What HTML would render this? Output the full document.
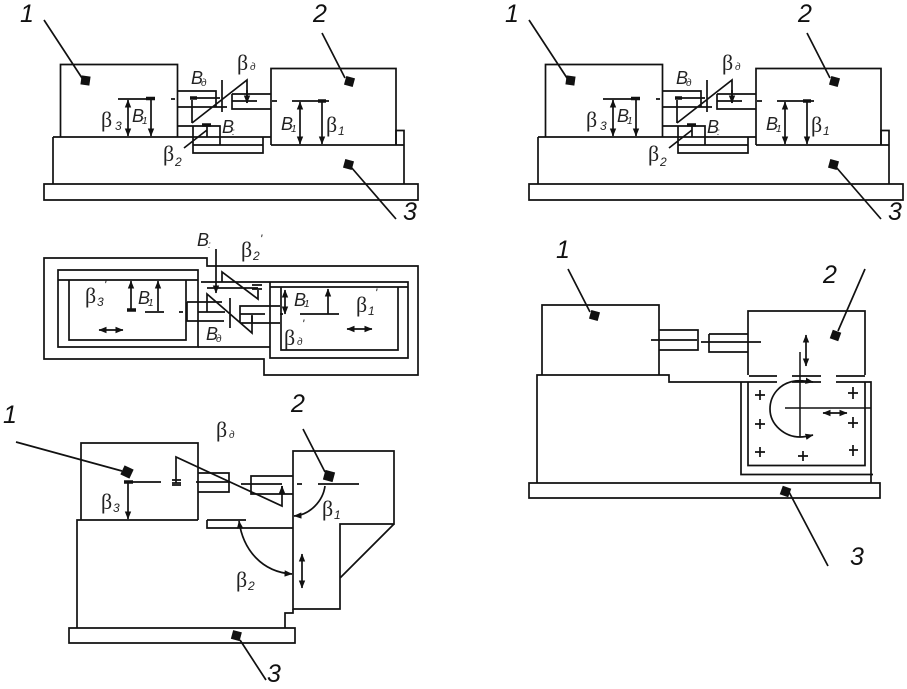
<!DOCTYPE html>
<html><head><meta charset="utf-8"><style>
html,body{margin:0;padding:0;background:#fff}
svg{display:block}
.l{fill:none;stroke:#111;stroke-width:1.7}
.t{stroke-width:1.5}
.b{stroke-width:3.5}
text{fill:#222;font-family:"Liberation Sans",sans-serif}
.n{font-size:25px;font-style:italic;fill:#111}
.g{font-size:22px;font-family:"Liberation Serif",serif}
.s{font-size:12px;font-style:italic}
.v{font-size:18px;font-style:italic}
.x{font-size:10px;font-style:italic}
</style></head><body>
<svg width="907" height="689" viewBox="0 0 907 689" xmlns="http://www.w3.org/2000/svg">
<defs>
<marker id="a" viewBox="0 0 8 8" refX="7.5" refY="4" markerWidth="8" markerHeight="8" orient="auto-start-reverse" markerUnits="userSpaceOnUse"><path d="M0 .8L8 4L0 7.2Z" fill="#111"/></marker>
<g id="top">
<path class="l" d="M60.5 137V64.5H177.5V137M271 145V68.5H396V145"/>
<path class="l" d="M53 137H271M53 137V184M271 145H404V184M396 145V130.500H404V145"/>
<path class="l" d="M44 184H418V200H44Z"/>
<path class="l" d="M177 91H216V107M177 107H227M190 98H220M192 123V100M192 123L247 80V103M222 80V112"/>
<path class="l" d="M232 94H271M232 94V109H271M232 101H257M171 99H175M272 101H277"/>
<path class="l" d="M177 126H220V145M193 126V153H263V137M193 145H263M184 148L207 130M207 125V137"/>
<path class="l" d="M118 99H155M292 101H329"/>
<path class="l b" d="M146 98.500H155M190 98H197M202 125H211M318 101H326"/>
<path class="l" d="M128 100V136" marker-start="url(#a)" marker-end="url(#a)"/>
<path class="l" d="M151 100V136" marker-end="url(#a)"/>
<path class="l" d="M300 102V144" marker-start="url(#a)" marker-end="url(#a)"/>
<path class="l" d="M322 102V144" marker-end="url(#a)"/>
<path class="l" d="M247 90V103" marker-end="url(#a)"/>
<path class="l" d="M44 20L82 78M322 33L345 78M351 167L396 219"/>
<rect x="81" y="76" width="9" height="9" fill="#111" transform="rotate(8 85.500 80.500)"/>
<rect x="345" y="77" width="9" height="9" fill="#111" transform="rotate(15 349.500 81.500)"/>
<rect x="344" y="160" width="9" height="9" fill="#111" transform="rotate(15 348.500 164.500)"/>
</g>
</defs>

<use href="#top"/>
<use href="#top" x="485"/>

<!-- top left labels -->
<text class="n" x="20" y="22">1</text><text class="n" x="313" y="22">2</text><text class="n" x="403" y="220">3</text>
<text class="g" x="101" y="127">β</text><text class="s" x="115" y="130">3</text>
<text class="v" x="132" y="122">B</text><text class="x" x="142" y="124">1</text>
<text class="v" x="191" y="84">B</text><text class="x" x="201" y="86">д</text>
<text class="g" x="237" y="70">β</text><text class="x" x="250" y="70">д</text>
<text class="v" x="222" y="133">B</text><text class="x" x="232" y="135">:</text>
<text class="v" x="281" y="130">B</text><text class="x" x="291" y="132">1</text>
<text class="g" x="326" y="132">β</text><text class="s" x="338" y="135">1</text>
<text class="g" x="163" y="161">β</text><text class="s" x="175" y="166">2</text>

<!-- top right labels -->
<text class="n" x="505" y="22">1</text><text class="n" x="798" y="22">2</text><text class="n" x="888" y="220">3</text>
<text class="g" x="586" y="127">β</text><text class="s" x="600" y="130">3</text>
<text class="v" x="617" y="122">B</text><text class="x" x="627" y="124">1</text>
<text class="v" x="676" y="84">B</text><text class="x" x="686" y="86">д</text>
<text class="g" x="722" y="70">β</text><text class="x" x="735" y="70">д</text>
<text class="v" x="707" y="133">B</text><text class="x" x="717" y="135">:</text>
<text class="v" x="766" y="130">B</text><text class="x" x="776" y="132">1</text>
<text class="g" x="811" y="132">β</text><text class="s" x="823" y="135">1</text>
<text class="g" x="648" y="161">β</text><text class="s" x="660" y="166">2</text>

<!-- middle -->
<path class="l" d="M44 258H207V266H418V375H264V359H44Z"/>
<path class="l" d="M58 270H198V347H58ZM58 280H198M69 280V340H186V280"/>
<path class="l" d="M201 282H408V358H270V282M270 287H408M281 287V350H398V287M198 347H270"/>
<path class="l" d="M187 302H222M187 302V321H224M198 312H225M179 312H183"/>
<path class="l" d="M207 312V294L252 333V316M230 298V328M240 323V306H280M240 323H280M240 314H265M280 314H283"/>
<path class="l" d="M222 282V272L258 299V290M207 288H258M252 285H262M252 289H262"/>
<path class="l" d="M216 249V293" marker-end="url(#a)"/>
<path class="l" d="M131 310V281" marker-end="url(#a)"/>
<path class="l" d="M127 310H136M145 312H164"/>
<path class="l b" d="M127 310H136"/>
<path class="l" d="M158 281V311" marker-start="url(#a)"/>
<path class="l" d="M285 290V314" marker-start="url(#a)" marker-end="url(#a)"/>
<path class="l" d="M328 314V289" marker-end="url(#a)"/>
<path class="l" d="M300 314H339M252 322V315"/>
<path class="l" d="M99 330H123" marker-start="url(#a)" marker-end="url(#a)"/>
<path class="l" d="M347 329H372" marker-start="url(#a)" marker-end="url(#a)"/>
<text class="v" x="197" y="246">B</text><text class="x" x="208" y="248">:</text>
<text class="g" x="241" y="257">β</text><text class="s" x="253" y="260">2</text><text class="s" x="260" y="243">'</text>
<text class="g" x="85" y="303">β</text><text class="s" x="97" y="306">3</text><text class="s" x="104" y="289">'</text>
<text class="v" x="138" y="304">B</text><text class="x" x="148" y="306">1</text>
<text class="v" x="206" y="340">B</text><text class="x" x="216" y="342">д</text>
<text class="g" x="284" y="345">β</text><text class="x" x="297" y="345">д</text><text class="s" x="302" y="328">'</text>
<text class="v" x="294" y="306">B</text><text class="x" x="304" y="307">1</text>
<text class="g" x="356" y="312">β</text><text class="s" x="368" y="315">1</text><text class="s" x="375" y="297">'</text>

<!-- bottom left -->
<path class="l" d="M81 520V443H198V520M77 628V520H198M207 520H246M207 520V528H293"/>
<path class="l" d="M293 451H394V524H340V609H293ZM394 524L340 578"/>
<path class="l" d="M293 609V613H285V628M69 628H295V643H69Z"/>
<path class="l" d="M176 483V457L282 506V486M172 480H181M172 483H181M172 485H181M124 482H161"/>
<path class="l" d="M198 473H229V492H198M196 482H229M293 476H251V494H293M241 484H282M297 484H302M318 484H359"/>
<path class="l b" d="M124 482H133"/>
<path class="l" d="M128 483V519" marker-end="url(#a)"/>
<path class="l" d="M282 495V486" marker-end="url(#a)"/>
<path class="l" d="M325 486C323 501 310 515 294 516" marker-end="url(#a)"/>
<path class="l" d="M239 521C243 550 262 572 292 574" marker-start="url(#a)" marker-end="url(#a)"/>
<path class="l" d="M302 554V588" marker-start="url(#a)" marker-end="url(#a)"/>
<path class="l" d="M16 442L122 471M303 429L325 472M266 680L240 640"/>
<rect x="122" y="467" width="10" height="10" fill="#111" transform="rotate(25 127 472)"/>
<rect x="324" y="471" width="10" height="10" fill="#111" transform="rotate(15 329 476)"/>
<rect x="232" y="631" width="9" height="9" fill="#111" transform="rotate(15 236 635)"/>
<text class="n" x="3" y="423">1</text><text class="n" x="291" y="412">2</text><text class="n" x="267" y="682">3</text>
<text class="g" x="216" y="437">β</text><text class="x" x="229" y="438">д</text>
<text class="g" x="101" y="509">β</text><text class="s" x="113" y="512">3</text>
<text class="g" x="322" y="516">β</text><text class="s" x="334" y="519">1</text>
<text class="g" x="236" y="587">β</text><text class="s" x="248" y="590">2</text>

<!-- bottom right -->
<path class="l" d="M542 375V305H659V375M537 483V375H669V382H777M792 382H821M836 382H871V483"/>
<path class="l" d="M529 483H880V498H529Z"/>
<path class="l" d="M748 375V311H865V375M749 376H777M792 376H821M836 376H865M748 382V465.500H865V382M741 382V474.500H873"/>
<path class="l" d="M659 330H698V350H659M709 334V352H748M709 334H748M651 340H697M701 342H761"/>
<path class="l t" d="M800 352V437M785 408H871"/>
<path class="l" d="M795 381C780 383 770 395 770 409C770 425 785 437 800 437C805 437 809 436 813 435" marker-end="url(#a)"/>
<path class="l" d="M795 381C801 380 807 381 813 382" marker-end="url(#a)"/>
<path class="l" d="M806 335V366" marker-start="url(#a)" marker-end="url(#a)"/>
<path class="l" d="M823 413H847" marker-start="url(#a)" marker-end="url(#a)"/>
<path class="l" d="M755 395H765M760 390V400M755 424H765M760 419V429M755 452H765M760 447V457M798 456H808M803 451V461M849 450H858M853 445V456M848 423H858M853 417V428M848 393H858M853 387V399"/>
<path class="l" d="M568 269L590 312M865 269L838 331M789 492L828 566"/>
<rect x="590" y="311" width="9" height="9" fill="#111" transform="rotate(15 594.500 315.500)"/>
<rect x="831" y="331" width="9" height="9" fill="#111" transform="rotate(20 835.500 335.500)"/>
<rect x="781" y="487" width="9" height="9" fill="#111" transform="rotate(20 785.500 491.500)"/>
<text class="n" x="556" y="258">1</text><text class="n" x="823" y="283">2</text><text class="n" x="850" y="565">3</text>
</svg>
</body></html>
